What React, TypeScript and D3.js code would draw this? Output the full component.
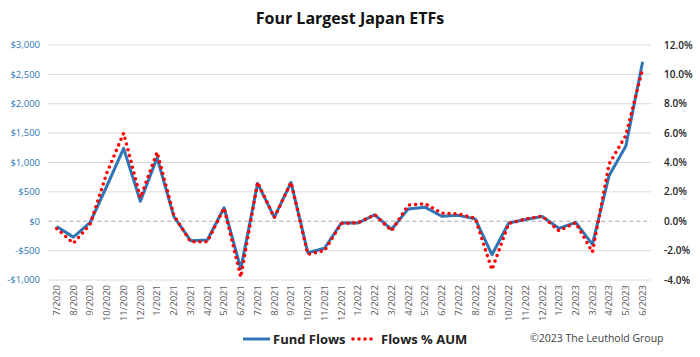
import React from "react";
import * as d3 from "d3";

const months = [
  "7/2020","8/2020","9/2020","10/2020","11/2020","12/2020",
  "1/2021","2/2021","3/2021","4/2021","5/2021","6/2021","7/2021","8/2021","9/2021","10/2021","11/2021","12/2021",
  "1/2022","2/2022","3/2022","4/2022","5/2022","6/2022","7/2022","8/2022","9/2022","10/2022","11/2022","12/2022",
  "1/2023","2/2023","3/2023","4/2023","5/2023","6/2023",
];

const fundFlows = [
  -90, -270, -20, 600, 1240, 340,
  1080, 80, -330, -320, 230, -810, 645, 65, 660, -535, -460, -30,
  -30, 110, -140, 210, 240, 85, 100, 40, -570, -30, 30, 80,
  -120, -20, -395, 780, 1280, 2715,
];

const flowsPctAum = [
  -0.5, -1.5, -0.2, 3.3, 6.0, 1.6,
  4.7, 0.4, -1.4, -1.4, 0.9, -3.8, 2.65, 0.25, 2.65, -2.25, -2.0, -0.15,
  -0.1, 0.45, -0.65, 1.1, 1.2, 0.55, 0.5, 0.2, -3.3, -0.15, 0.15, 0.35,
  -0.65, -0.1, -2.1, 3.9, 5.85, 10.4,
];

const leftTicks = [-1000, -500, 0, 500, 1000, 1500, 2000, 2500, 3000];
const rightTicks = [-4, -2, 0, 2, 4, 6, 8, 10, 12];

const W = 700;
const H = 357;
const FONT = "'Open Sans', 'Liberation Sans', sans-serif";
const BLUE = "#2E75B6";
const RED = "#FF0000";

export default function App() {
  const x = d3.scaleBand<string>().domain(months).range([48.3, 651]).padding(0);
  const cx = (m: string) => (x(m) as number) + x.bandwidth() / 2;
  const yL = d3.scaleLinear().domain([-1000, 3000]).range([280, 45]);
  const yR = d3.scaleLinear().domain([-4, 12]).range([280, 45]);

  const lineL = d3
    .line<number>()
    .x((_, i) => cx(months[i]))
    .y((d) => yL(d));
  const lineR = d3
    .line<number>()
    .x((_, i) => cx(months[i]))
    .y((d) => yR(d));

  const fmtL = (v: number) => (v < 0 ? "-$" : "$") + d3.format(",")(Math.abs(v));
  const fmtR = (v: number) => v.toFixed(1) + "%";

  return (
    <svg
      width={W}
      height={H}
      style={{ position: "absolute", left: 0, top: 0, background: "#fff" }}
      fontFamily={FONT}
    >
      <rect x={0} y={0} width={W} height={H} fill="#fff" />
      <text x={350} y={24} textAnchor="middle" fontSize={16} fontWeight={700} fill="#111">
        Four Largest Japan ETFs
      </text>

      {leftTicks.map((t) =>
        t === 0 ? null : (
          <line key={"g" + t} x1={48.3} x2={651} y1={yL(t)} y2={yL(t)} stroke="#D9D9D9" strokeWidth={1} />
        )
      )}
      <line x1={48.3} x2={651} y1={yL(0)} y2={yL(0)} stroke="#A6A6A6" strokeWidth={1.2} strokeDasharray="4 3" />

      {leftTicks.map((t) => (
        <text key={"l" + t} x={40} y={yL(t)} dy="0.35em" textAnchor="end" fontSize={9.5} fill={BLUE}>
          {fmtL(t)}
        </text>
      ))}
      {rightTicks.map((t) => (
        <text key={"r" + t} x={664} y={yR(t)} dy="0.35em" textAnchor="start" fontSize={10} fontWeight={600} fill="#222">
          {fmtR(t)}
        </text>
      ))}

      {months.map((m) => (
        <text
          key={"x" + m}
          transform={`translate(${cx(m)},285) rotate(-90)`}
          dy="0.35em"
          textAnchor="end"
          fontSize={9.5}
          fill="#595959"
        >
          {m}
        </text>
      ))}

      <path d={lineL(fundFlows) || ""} fill="none" stroke={BLUE} strokeWidth={3} strokeLinejoin="round" />
      <path
        d={lineR(flowsPctAum) || ""}
        fill="none"
        stroke={RED}
        strokeWidth={3.6}
        strokeLinecap="round"
        strokeDasharray="0 6"
      />

      <line x1={243} x2={270} y1={339} y2={339} stroke={BLUE} strokeWidth={3} />
      <text x={273} y={344} fontSize={13} fontWeight={700} fill="#222">
        Fund Flows
      </text>
      <line x1={353} x2={377} y1={339} y2={339} stroke={RED} strokeWidth={3.6} strokeLinecap="round" strokeDasharray="0 6" />
      <text x={381} y={344} fontSize={13} fontWeight={700} fill="#222">
        Flows % AUM
      </text>
      <text x={530} y={342} fontSize={10.5} fill="#404040">
        ©2023 The Leuthold Group
      </text>
    </svg>
  );
}
